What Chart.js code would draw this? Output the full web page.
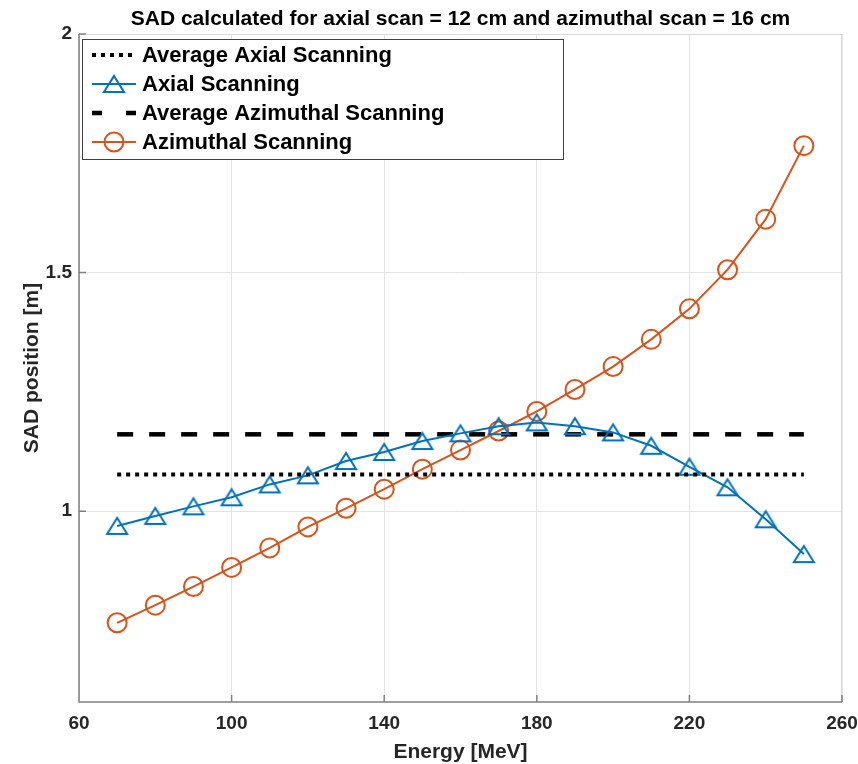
<!DOCTYPE html>
<html>
<head>
<meta charset="utf-8">
<script src="https://cdn.jsdelivr.net/npm/chart.js@4"></script>
<style>
  html, body { margin: 0; padding: 0; background: #fff; }
  #wrap { width: 858px; height: 764px; }
</style>
</head>
<body>
<div id="wrap"><canvas id="sad"></canvas></div>
<script>
const energy = [70, 80, 90, 100, 110, 120, 130, 140, 150, 160, 170, 180, 190, 200, 210, 220, 230, 240, 250];
const axialSad = [0.969, 0.990, 1.010, 1.029, 1.056, 1.075, 1.105, 1.124, 1.147, 1.163,
  1.178, 1.186, 1.178, 1.165, 1.137, 1.093, 1.050, 0.983, 0.910];
const azimuthalSad = [0.766, 0.803, 0.842, 0.882, 0.923, 0.967, 1.006, 1.046, 1.088, 1.128,
  1.168, 1.209, 1.255, 1.303, 1.360, 1.424, 1.506, 1.612, 1.766];
const avgAxial = 1.077;
const avgAzimuthal = 1.161;
const xTicks = [60, 100, 140, 180, 220, 260];
const yTicks = [1, 1.5, 2];
const chartTitle = "SAD calculated for axial scan = 12 cm and azimuthal scan = 16 cm";

const FONT = "'Liberation Sans', Arial, Helvetica, sans-serif";
const blue = "#0072BD";
const orange = "#D95319";

function pts(ys) {
  return energy.map((e, i) => ({ x: e, y: ys[i] }));
}
function flat(v) {
  return [{ x: energy[0], y: v }, { x: energy[energy.length - 1], y: v }];
}

// matlab '^' marker, centred on its bounding box
function triangleMarker(color) {
  const c = document.createElement("canvas");
  c.width = 26; c.height = 22;
  const g = c.getContext("2d");
  g.strokeStyle = color;
  g.lineWidth = 2;
  g.lineJoin = "miter";
  g.beginPath();
  g.moveTo(13, 3); g.lineTo(23, 19); g.lineTo(3, 19); g.closePath();
  g.stroke();
  return c;
}
const triMark = triangleMarker(blue);

// title, box, inward ticks and a MATLAB-like legend
const matlabFrame = {
  id: "matlabFrame",
  afterDatasetsDraw(chart) {
    const { ctx, chartArea: a, scales } = chart;
    ctx.save();
    ctx.lineWidth = 1;
    ctx.strokeStyle = "#d9d9d9";
    ctx.beginPath();
    ctx.moveTo(a.left, a.top + 0.5); ctx.lineTo(a.right, a.top + 0.5);
    ctx.moveTo(a.right - 0.5, a.top); ctx.lineTo(a.right - 0.5, a.bottom);
    ctx.stroke();
    ctx.strokeStyle = "#808080";
    ctx.lineWidth = 1.5;
    ctx.beginPath();
    ctx.moveTo(a.left, a.top); ctx.lineTo(a.left, a.bottom); ctx.lineTo(a.right, a.bottom);
    for (const v of xTicks) {
      const px = scales.x.getPixelForValue(v);
      ctx.moveTo(px, a.bottom); ctx.lineTo(px, a.bottom - 7);
    }
    for (const v of yTicks) {
      const py = scales.y.getPixelForValue(v);
      ctx.moveTo(a.left, py); ctx.lineTo(a.left + 7, py);
    }
    ctx.stroke();

    // title over the axes
    ctx.fillStyle = "#000";
    ctx.font = "bold 21px " + FONT;
    ctx.textAlign = "center";
    ctx.textBaseline = "alphabetic";
    ctx.fillText(chartTitle, (a.left + a.right) / 2, 25);

    // legend
    const lx = a.left + 3, ly = a.top + 5, lw = 481, lh = 120;
    ctx.fillStyle = "#fff";
    ctx.fillRect(lx, ly, lw, lh);
    ctx.strokeStyle = "#404040";
    ctx.lineWidth = 1;
    ctx.strokeRect(lx + 0.5, ly + 0.5, lw, lh);
    ctx.font = "bold 22px " + FONT;
    ctx.textAlign = "left";
    ctx.textBaseline = "middle";
    chart.data.datasets.forEach((ds, i) => {
      const cy = ly + 16 + i * 29;
      const x0 = lx + 10, x1 = lx + 54;
      const mx = (x0 + x1) / 2;
      ctx.strokeStyle = ds.borderColor;
      ctx.lineWidth = ds.borderWidth;
      ctx.setLineDash(ds.borderDash || []);
      if (ds.borderDash && ds.borderDash[0] > 10) ctx.setLineDash([10, 24]);
      ctx.beginPath(); ctx.moveTo(x0, cy); ctx.lineTo(x1, cy); ctx.stroke();
      ctx.setLineDash([]);
      if (ds.pointRadius > 0) {
        if (ds.pointStyle === triMark) {
          ctx.drawImage(triMark, mx - triMark.width / 2, cy - triMark.height / 2);
        } else {
          ctx.lineWidth = ds.pointBorderWidth;
          ctx.beginPath();
          ctx.arc(mx, cy, ds.pointRadius, 0, Math.PI * 2);
          ctx.stroke();
        }
      }
      ctx.fillStyle = "#000";
      ctx.fillText(ds.label, lx + 60, cy + 1);
    });
    ctx.restore();
  }
};

new Chart(document.getElementById("sad"), {
  type: "line",
  data: {
    datasets: [
      {
        label: "Average Axial Scanning",
        data: flat(avgAxial),
        borderColor: "#000",
        borderWidth: 4,
        borderDash: [4, 5],
        pointRadius: 0
      },
      {
        label: "Axial Scanning",
        data: pts(axialSad),
        borderColor: blue,
        borderWidth: 2,
        pointStyle: triMark,
        pointRadius: 11,
        pointBorderWidth: 2,
        pointBorderColor: blue,
        pointBackgroundColor: "rgba(0,0,0,0)",
        tension: 0
      },
      {
        label: "Average Azimuthal Scanning",
        data: flat(avgAzimuthal),
        borderColor: "#000",
        borderWidth: 4.5,
        borderDash: [16, 16],
        pointRadius: 0
      },
      {
        label: "Azimuthal Scanning",
        data: pts(azimuthalSad),
        borderColor: orange,
        borderWidth: 2,
        pointStyle: "circle",
        pointRadius: 9.5,
        pointBorderWidth: 2,
        pointBorderColor: orange,
        pointBackgroundColor: "rgba(0,0,0,0)",
        tension: 0
      }
    ]
  },
  options: {
    responsive: true,
    maintainAspectRatio: false,
    animation: false,
    layout: { padding: { left: 0, right: 16, top: 34, bottom: 0 } },
    plugins: {
      legend: { display: false },
      tooltip: { enabled: false },
      title: { display: false }
    },
    scales: {
      x: {
        type: "linear",
        min: 60,
        max: 260,
        afterFit: (s) => { s.height = 62; s.paddingLeft = 0; s.paddingRight = 0; },
        afterBuildTicks: (s) => { s.ticks = xTicks.map((v) => ({ value: v })); },
        ticks: {
          color: "#262626",
          padding: 10,
          font: { family: FONT, size: 19, weight: "bold" }
        },
        grid: { color: "#e3e3e3", drawTicks: false },
        border: { display: false },
        title: {
          display: true,
          text: "Energy [MeV]",
          color: "#262626",
          font: { family: FONT, size: 21, weight: "bold", lineHeight: 1 },
          padding: { top: 0, bottom: 1.5 }
        }
      },
      y: {
        type: "linear",
        min: 0.6,
        max: 2,
        afterFit: (s) => { s.width = 79; s.paddingTop = 0; s.paddingBottom = 0; },
        afterBuildTicks: (s) => { s.ticks = yTicks.map((v) => ({ value: v })); },
        ticks: {
          color: "#262626",
          padding: 7,
          font: { family: FONT, size: 19, weight: "bold" },
          callback: (v) => String(v)
        },
        grid: { color: "#e3e3e3", drawTicks: false },
        border: { display: false },
        title: {
          display: true,
          text: "SAD position [m]",
          color: "#262626",
          font: { family: FONT, size: 21, weight: "bold", lineHeight: 1 },
          padding: { top: 21.5, bottom: 0 }
        }
      }
    }
  },
  plugins: [matlabFrame]
});
</script>
</body>
</html>
